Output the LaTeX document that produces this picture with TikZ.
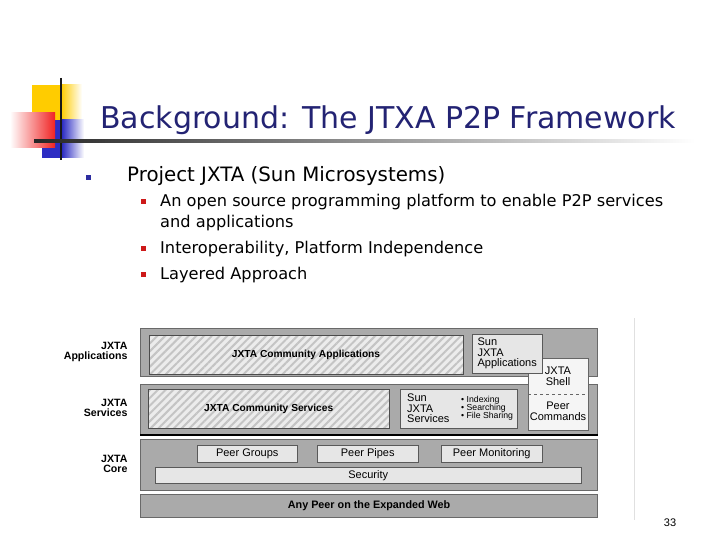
\documentclass[tikz,border=0pt]{standalone}
\usepackage{fontspec}
\setmainfont{DejaVu Sans}
\newfontfamily\arialf{Liberation Sans}
\usetikzlibrary{patterns.meta}

\definecolor{titleblue}{RGB}{35,35,115}
\definecolor{bulblue}{RGB}{45,45,160}
\definecolor{bulred}{RGB}{205,25,25}
\definecolor{logoyel}{RGB}{255,204,0}
\definecolor{logored}{RGB}{240,35,35}
\definecolor{logoblue}{RGB}{45,45,195}
\definecolor{layergray}{RGB}{170,170,170}
\definecolor{layerline}{RGB}{105,105,105}
\definecolor{boxgray}{RGB}{230,230,230}
\definecolor{hatchbg}{RGB}{236,236,236}
\definecolor{hatchln}{RGB}{196,196,196}

\newcommand\diagf{\arialf\fontsize{11}{10.5}\selectfont}
\newcommand\diagb{\arialf\bfseries\fontsize{10.2}{10.2}\selectfont}
\newcommand\smallf{\arialf\fontsize{8.7}{8.2}\selectfont}
\newcommand\subf{\fontsize{16.2}{18}\selectfont}

\tikzset{
  layer/.style={draw=layerline, fill=layergray, line width=1.2pt, anchor=north west, inner sep=0pt},
  hatchbox/.style={draw=black!70, preaction={fill=hatchbg}, anchor=north west, inner sep=0pt,
    pattern={Lines[angle=45,distance=5.5pt,line width=2pt]}, pattern color=hatchln, font=\diagb},
  litebox/.style={draw=black!65, fill=boxgray, anchor=north west, inner sep=0pt, font=\diagf},
  sidelbl/.style={anchor=east, align=right, font=\arialf\bfseries\fontsize{10.6}{10.2}\selectfont},
  bulsq/.style={minimum size=5pt, inner sep=0pt},
  slidetxt/.style={anchor=base west, inner sep=0pt}
}

\begin{document}
\begin{tikzpicture}[x=1pt, y=-1pt]
  \useasboundingbox (0,0) rectangle (720,540);

  % logo
  \fill[logoyel] (32,85) rectangle (61,120);
  \shade[left color=logoyel, right color=white] (61,85) rectangle (82,120);
  \fill[logoblue] (42,120) rectangle (62,158);
  \shade[left color=logoblue, right color=white] (62,120) rectangle (84,158);
  \shade[left color=white, right color=logored] (10,113) rectangle (55,148);
  \draw[black!90, line width=2.5pt] (61,78) -- (61,160);
  \shade[left color=black!85, middle color=black!40, right color=white] (34,140) rectangle (695,142.5);

  \node[slidetxt, text=titleblue, font=\fontsize{30}{32}\selectfont] (title) at (100,129)
    {Background: The JTXA P2P Framework};

  % bullets
  \node[bulsq, fill=bulblue] (b0) at (88.5,177.5) {};
  \node[slidetxt, font=\fontsize{19.8}{22}\selectfont] (proj) at (127,182) {Project JXTA (Sun Microsystems)};
  \node[bulsq, fill=bulred] (b1) at (143.5,202) {};
  \node[bulsq, fill=bulred] (b2) at (143.5,248) {};
  \node[bulsq, fill=bulred] (b3) at (143.5,274) {};
  \node[slidetxt, font=\subf] (sub1) at (160,207)
    {An open source programming platform to enable P2P services};
  \node[slidetxt, font=\subf] (sub1b) at (160,227) {and applications};
  \node[slidetxt, font=\subf] (sub2) at (160,253) {Interoperability, Platform Independence};
  \node[slidetxt, font=\subf] (sub3) at (160,279) {Layered Approach};

  % layers
  \node[layer, minimum width=457pt, minimum height=48pt] (applayer) at (140,328) {};
  \node[layer, minimum width=457pt, minimum height=50pt] (svclayer) at (140,384) {};
  \draw[black, line width=2.5pt] (svclayer.south west) -- (svclayer.south east);
  \node[layer, minimum width=457pt, minimum height=51pt] (corelayer) at (140,439) {};
  \node[layer, minimum width=457pt, minimum height=23pt, font=\arialf\bfseries\fontsize{10.8}{11}\selectfont] (weblayer) at (140,494)
    {Any Peer on the Expanded Web};

  \node[sidelbl] (lblapp) at (131,352) {JXTA\\Applications};
  \node[sidelbl] (lblsvc) at (131,408) {JXTA\\Services};
  \node[sidelbl] (lblcore) at (131,464) {JXTA\\Core};

  % shell, partly under the Sun boxes
  \node[draw=black!60, fill=black!4, anchor=north west, inner sep=0pt, minimum width=60pt, minimum height=72pt] (shell) at (528,358) {};
  \draw[black!60, dashed] (shell.west) -- (shell.east);
  \node[align=center, font=\diagf] (shelltxt) at (558,376.5) {JXTA\\Shell};
  \node[align=center, font=\diagf] (cmdtxt) at (558,411.5) {Peer\\Commands};

  % applications
  \node[hatchbox, minimum width=314pt, minimum height=39pt] (commapp) at (148,334) {JXTA Community Applications};
  \node[litebox, minimum width=70pt, minimum height=39pt, align=left] (sunapp) at (472,334) {Sun\\JXTA\\Applications};

  % services
  \node[hatchbox, minimum width=241pt, minimum height=39pt] (commsvc) at (148,389) {JXTA Community Services};
  \node[litebox, minimum width=117pt, minimum height=39pt] (sunsvc) at (400,389) {};
  \node[anchor=west, align=left, font=\diagf, inner sep=0pt] (sunsvctxt) at (407,408.5) {Sun\\JXTA\\Services};
  \node[anchor=west, align=left, font=\smallf, inner sep=0pt] (svclist) at (461,408) {• Indexing\\• Searching\\• File Sharing};

  % core
  \node[litebox, minimum width=100pt, minimum height=17pt] (groups) at (197,445) {Peer Groups};
  \node[litebox, minimum width=101pt, minimum height=17pt] (pipes) at (317,445) {Peer Pipes};
  \node[litebox, minimum width=101pt, minimum height=17pt] (monitor) at (441,445) {Peer Monitoring};
  \node[litebox, minimum width=426pt, minimum height=16pt] (security) at (155,467) {Security};

  \draw[black!12, line width=1pt] (634,318) -- (634,520);
  \node[font=\arialf\fontsize{11}{12}\selectfont] (pagenum) at (670,523) {33};

\end{tikzpicture}
\end{document}
